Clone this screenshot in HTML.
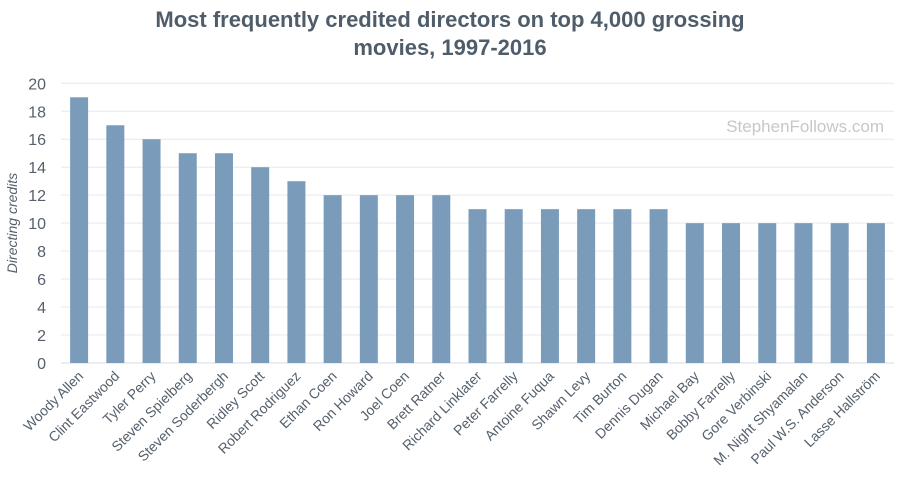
<!DOCTYPE html>
<html><head><meta charset="utf-8"><style>
body{margin:0;background:#fff;font-family:"Liberation Sans",sans-serif;}
</style></head><body>
<svg id="chart" width="900" height="493" xmlns="http://www.w3.org/2000/svg">
<text x="450" y="27" text-anchor="middle" font-size="22" font-weight="bold" fill="#4f5d6b">Most frequently credited directors on top 4,000 grossing</text>
<text x="450" y="55" text-anchor="middle" font-size="22" font-weight="bold" fill="#4f5d6b">movies, 1997-2016</text>
<text x="884" y="132" text-anchor="end" font-size="17" fill="#c4c8cc">StephenFollows.com</text>
<text transform="translate(17,223) rotate(-90)" text-anchor="middle" font-size="14" font-style="italic" fill="#55606c">Directing credits</text>
<g id="grid"></g><g id="bars"></g><g id="labels"></g>
</svg>
<script>
const categories=["Woody Allen","Clint Eastwood","Tyler Perry","Steven Spielberg","Steven Soderbergh","Ridley Scott","Robert Rodriguez","Ethan Coen","Ron Howard","Joel Coen","Brett Ratner","Richard Linklater","Peter Farrelly","Antoine Fuqua","Shawn Levy","Tim Burton","Dennis Dugan","Michael Bay","Bobby Farrelly","Gore Verbinski","M. Night Shyamalan","Paul W.S. Anderson","Lasse Hallström"];
const values=[19,17,16,15,15,14,13,12,12,12,12,11,11,11,11,11,11,10,10,10,10,10,10];
const yTicks=[0,2,4,6,8,10,12,14,16,18,20];
const NS="http://www.w3.org/2000/svg";
const x0=61,x1=894,yZero=363,yTop=83.3,yMax=20;
const y=v=>yZero-(v/yMax)*(yZero-yTop);
const step=(x1-x0)/categories.length;
const xc=i=>x0+step*(i+0.5);
const bw=18;
function mk(t,a,p){const e=document.createElementNS(NS,t);for(const k in a)e.setAttribute(k,a[k]);p.appendChild(e);return e;}
const g=document.getElementById('grid');
yTicks.forEach(t=>{
 const l=mk('line',{x1:x0,x2:x1,y1:y(t),y2:y(t),stroke:t===0?'#d5dce3':'#e6e9ee','stroke-width':1},g);
 
 
 const tx=mk('text',{x:46,y:y(t)+6,'text-anchor':'end','font-size':16,fill:'#55606c'},g);
 tx.textContent=t;
 
 
});
const b=document.getElementById('bars'),lb=document.getElementById('labels');
categories.forEach((c,i)=>{
 const r=mk('rect',{x:xc(i)-bw/2,y:y(values[i]),width:bw,height:yZero-y(values[i]),fill:'#7a9cba'},b);
 
 
 const t=mk('text',{transform:`translate(${xc(i)+5},${yZero+14}) rotate(-45)`,'text-anchor':'end','font-size':14,fill:'#55606c'},lb);
 t.textContent=c;
 
 
});
</script>
</body></html>
